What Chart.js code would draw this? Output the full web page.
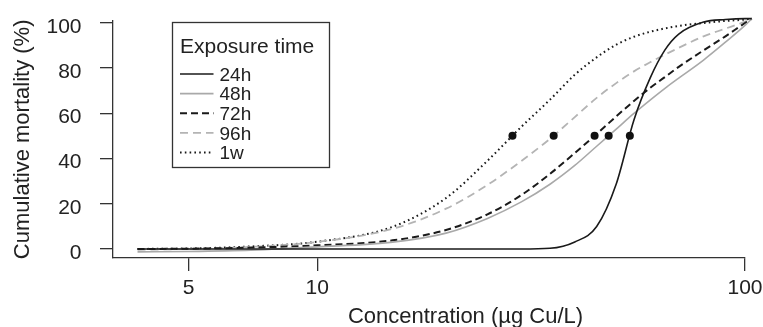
<!DOCTYPE html>
<html><head><meta charset="utf-8">
<script src="https://cdn.jsdelivr.net/npm/chart.js@4.4.0/dist/chart.umd.min.js"></script>
<style>html,body{margin:0;padding:0;background:#fff;}canvas{display:block;}</style>
</head><body>
<canvas id="c" width="763" height="327" style="width:763px;height:327px"></canvas>
<script>
// ---- data ----
const concentrations = [3.8, 5, 7, 10, 15, 20, 25, 30, 35, 40, 45, 50, 55, 60, 65, 70, 80, 90, 100, 103.7];
const mortality24h = [0, 0, 0, 0, 0, 0, 0, 0, 0.3, 3.1, 9.9, 28.7, 57, 75.5, 88, 95, 100.3, 101.4, 101.8, 101.8];
const mortality48h = [-1.3, -1.1, -0.5, 0.9, 3.0, 7.0, 13.5, 20.8, 28.6, 36.9, 45.4, 53, 59.9, 65.8, 71, 75.5, 83.5, 91.4, 98.8, 101.8];
const mortality72h = [0, 0.1, 0.6, 1.6, 3.8, 8.4, 15.3, 23.8, 33.2, 42.4, 50.8, 58.6, 65.4, 71.2, 76, 80.5, 87.8, 94, 99.9, 101.8];
const mortality96h = [-0.4, 0, 0.9, 3.1, 8.9, 17.8, 28.3, 38.9, 48.7, 58.3, 66.8, 73.3, 78.5, 82.5, 85.9, 88.9, 94, 97.4, 100.5, 101.8];
const mortality1w = [0, 0.2, 1.1, 3.2, 9.8, 22.5, 39, 54, 66, 77, 84.7, 90.3, 93.8, 96, 97.5, 98.6, 99.9, 100.8, 101.4, 101.8];
const seriesLabels = ['24h', '48h', '72h', '96h', '1w'];
const ec50Concentrations = [53.8, 48.0, 44.5, 35.7, 28.6];
const ec50Mortality = [50, 50, 50, 50, 50];
const xTickValues = [5, 10, 100];
const yTickValues = [0, 20, 40, 60, 80, 100];
const xAxisTitle = 'Concentration (\u00b5g Cu/L)';
const yAxisTitle = 'Cumulative mortality (%)';
const legendTitle = 'Exposure time';

// ---- styles ----
const FONT = '"Liberation Sans", Arial, sans-serif';
const TEXT = '#222';
const AXIS = '#333';
const X_MIN = 3.33, X_MAX = 100;
const seriesStyles = [
  { color: '#1a1a1a', width: 1.6, dash: [] },
  { color: '#a9a9a9', width: 1.6, dash: [] },
  { color: '#1a1a1a', width: 2.0, dash: [7, 4] },
  { color: '#b4b4b4', width: 1.8, dash: [8, 5] },
  { color: '#1a1a1a', width: 2.0, dash: [1.6, 3.2] }
];
const seriesValues = [mortality24h, mortality48h, mortality72h, mortality96h, mortality1w];

const lineDatasets = seriesValues.map((vals, i) => ({
  label: seriesLabels[i],
  data: concentrations.map((c, j) => ({ x: c, y: vals[j] })),
  borderColor: seriesStyles[i].color,
  borderWidth: seriesStyles[i].width,
  borderDash: seriesStyles[i].dash,
  pointRadius: 0,
  fill: false,
  cubicInterpolationMode: 'monotone',
  clip: false
}));

const dotDataset = {
  label: 'EC50',
  data: ec50Concentrations.map((c, i) => ({ x: c, y: ec50Mortality[i] })),
  showLine: false,
  pointRadius: 4,
  pointBackgroundColor: '#111',
  pointBorderColor: '#111',
  pointBorderWidth: 0,
  clip: false
};

const overlay = {
  id: 'overlay',
  afterDraw(chart) {
    const ctx = chart.ctx;
    const a = chart.chartArea;
    const ys = chart.scales.y;
    ctx.save();
    ctx.fillStyle = TEXT;
    // y tick labels, positioned through the y scale
    ctx.font = '21px ' + FONT;
    ctx.textAlign = 'right';
    ctx.textBaseline = 'alphabetic';
    yTickValues.forEach(v => {
      ctx.fillText(String(v), a.left - 31.5, ys.getPixelForValue(v) + 10);
    });
    // axis titles
    ctx.font = '22px ' + FONT;
    ctx.textAlign = 'center';
    ctx.fillText(xAxisTitle, a.left + 352.5, a.bottom + 64.5);
    ctx.save();
    ctx.translate(28.5, (a.top + a.bottom) / 2);
    ctx.rotate(-Math.PI / 2);
    ctx.fillText(yAxisTitle, 0, 0);
    ctx.restore();
    // legend
    const lx = a.left + 59.5, ly = 22.5, lw = 157, lh = 145;
    ctx.strokeStyle = AXIS;
    ctx.lineWidth = 1.3;
    ctx.setLineDash([]);
    ctx.strokeRect(lx, ly, lw, lh);
    ctx.textAlign = 'left';
    ctx.font = '21px ' + FONT;
    ctx.fillText(legendTitle, lx + 7.5, ly + 30.2);
    ctx.font = '19px ' + FONT;
    for (let i = 0; i < seriesLabels.length; i++) {
      const base = ly + 58.2 + i * 19.6;
      const st = seriesStyles[i];
      ctx.beginPath();
      ctx.strokeStyle = st.color;
      ctx.lineWidth = st.width;
      ctx.setLineDash(st.dash);
      ctx.moveTo(lx + 7.5, base - 6.7);
      ctx.lineTo(lx + 41, base - 6.7);
      ctx.stroke();
      ctx.setLineDash([]);
      ctx.fillStyle = TEXT;
      ctx.fillText(seriesLabels[i], lx + 47, base);
    }
    ctx.restore();
  }
};

new Chart(document.getElementById('c'), {
  type: 'line',
  data: { datasets: [dotDataset, ...lineDatasets] },
  options: {
    responsive: false,
    animation: false,
    devicePixelRatio: 1,
    events: [],
    layout: { padding: { left: 0, right: 18, top: 20.7, bottom: 0 } },
    plugins: { legend: { display: false }, tooltip: { enabled: false }, title: { display: false } },
    scales: {
      x: {
        type: 'logarithmic',
        bounds: 'data',
        afterDataLimits: s => { s.min = X_MIN; s.max = X_MAX; },
        afterBuildTicks: s => { s.min = X_MIN; s.max = X_MAX; s.ticks = xTickValues.map(v => ({ value: v })); },
        afterFit: s => { s.height = 69; s.paddingLeft = 0; s.paddingRight = 0; },
        ticks: { callback: v => String(v), color: TEXT, font: { family: FONT, size: 21 }, padding: 4.5, maxRotation: 0, autoSkip: false },
        grid: { display: true, drawOnChartArea: false, drawTicks: true, tickLength: 13, color: AXIS, lineWidth: 1.3 },
        border: { display: true, color: AXIS, width: 1.3 }
      },
      y: {
        type: 'linear',
        min: -4,
        max: 100.9,
        afterBuildTicks: s => { s.ticks = yTickValues.map(v => ({ value: v })); },
        afterFit: s => { s.width = 113; s.paddingTop = 0; s.paddingBottom = 0; },
        ticks: { display: false },
        grid: { display: true, drawOnChartArea: false, drawTicks: true, tickLength: 13, color: AXIS, lineWidth: 1.3 },
        border: { display: true, color: AXIS, width: 1.3 }
      }
    }
  },
  plugins: [overlay]
});
</script>
</body></html>
